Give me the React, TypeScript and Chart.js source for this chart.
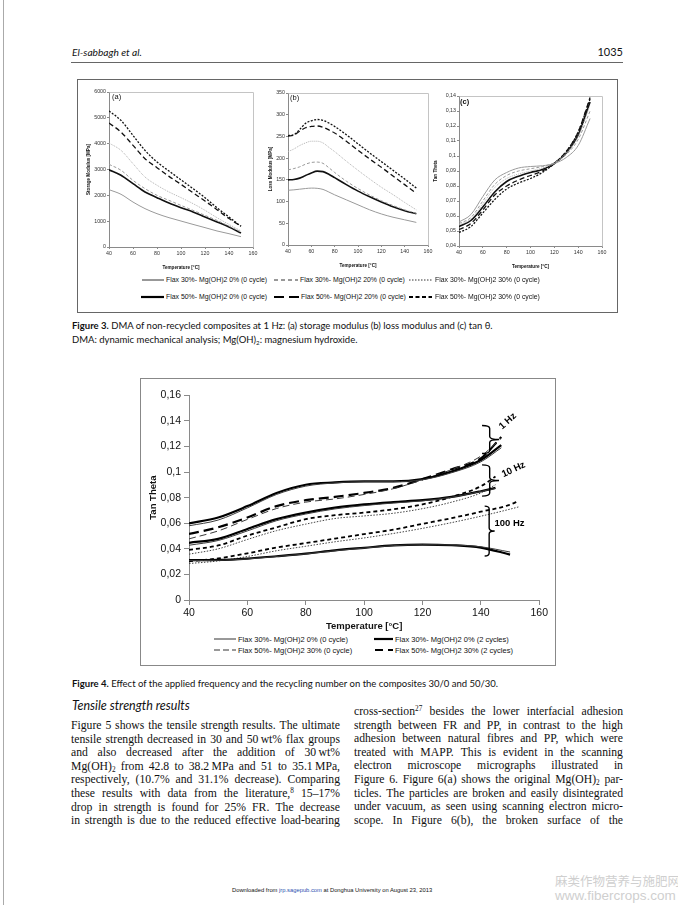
import React, { useEffect, useRef } from 'react';
import { Chart, registerables } from 'chart.js';
Chart.register(...registerables);

const SANS = '"Liberation Sans", Arial, sans-serif';
const CAP = 'Lato, "Open Sans", sans-serif';
const SERIF = '"Liberation Serif", "Times New Roman", serif';

// ---------- Figure 3 data ----------
const fig3Temps = [40, 50, 60, 70, 80, 90, 100, 110, 120, 130, 140, 150];
const storage30_0 = [2220, 2040, 1740, 1485, 1290, 1135, 1005, 875, 750, 620, 515, 400];
const storage30_20 = [3200, 2970, 2580, 2260, 2000, 1805, 1610, 1420, 1225, 1030, 810, 580];
const storage30_30 = [4025, 3740, 3225, 2710, 2390, 2130, 1910, 1680, 1420, 1135, 875, 620];
const storage50_0 = [2990, 2775, 2450, 2130, 1910, 1700, 1520, 1355, 1160, 970, 775, 540];
const storage50_20 = [4800, 4450, 3935, 3420, 3070, 2735, 2425, 2100, 1780, 1445, 1100, 800];
const storage50_30 = [5265, 4900, 4320, 3740, 3290, 2940, 2600, 2260, 1910, 1520, 1160, 800];

const lossTemps = [40, 45, 50, 55, 60, 65, 70, 75, 80, 90, 100, 110, 120, 130, 140, 150];
const loss30_0 = [126, 127, 128.5, 130, 131, 130.5, 128, 122, 115.5, 104, 92.5, 81, 71.5, 64, 58, 52];
const loss30_20 = [173, 176, 180, 186, 190, 191, 188, 178, 167, 147, 130, 115, 102, 91, 81, 73];
const loss30_30 = [215, 221, 229, 235, 239, 239, 235, 225, 215, 193, 172, 152, 133, 116, 98, 81];
const loss50_0 = [150, 151, 154, 160, 166, 170, 169, 163, 155, 139, 124, 111, 99, 88, 79, 72];
const loss50_20 = [251, 253, 262, 270, 273, 274, 271, 265, 258, 239, 218, 198, 179, 159, 139, 119];
const loss50_30 = [252, 254, 266, 280, 286, 289, 287, 281, 273, 254, 233, 212, 192, 172, 152, 131];

const tan30_0 = [0.056, 0.061, 0.073, 0.084, 0.089, 0.092, 0.093, 0.0935, 0.095, 0.099, 0.107, 0.125];
const tan30_20 = [0.055, 0.059, 0.070, 0.081, 0.087, 0.090, 0.0915, 0.093, 0.0955, 0.101, 0.111, 0.130];
const tan30_30 = [0.054, 0.058, 0.068, 0.079, 0.085, 0.088, 0.090, 0.092, 0.095, 0.102, 0.113, 0.134];
const tan50_0 = [0.053, 0.057, 0.066, 0.076, 0.083, 0.0865, 0.089, 0.091, 0.095, 0.102, 0.114, 0.136];
const tan50_20 = [0.051, 0.055, 0.064, 0.074, 0.080, 0.084, 0.087, 0.090, 0.095, 0.103, 0.116, 0.139];
const tan50_30 = [0.049, 0.053, 0.062, 0.071, 0.078, 0.082, 0.085, 0.089, 0.095, 0.103, 0.116, 0.138];

// ---------- Figure 4 data ----------
const temps1Hz = [40, 50, 60, 70, 80, 90, 100, 110, 120, 130, 140, 147];
const hz1_30_0_c0 = [0.058, 0.0625, 0.072, 0.0825, 0.089, 0.0915, 0.0925, 0.0925, 0.094, 0.0995, 0.108, 0.119];
const hz1_30_0_c2 = [0.0598, 0.0645, 0.0734, 0.0837, 0.0901, 0.0919, 0.0927, 0.0927, 0.0945, 0.1004, 0.1094, 0.121];
const hz1_50_30_c0 = [0.0478, 0.054, 0.063, 0.0715, 0.0765, 0.079, 0.0825, 0.087, 0.094, 0.102, 0.1125, 0.1265];
const hz1_50_30_c2 = [0.0516, 0.0568, 0.0645, 0.0734, 0.078, 0.0806, 0.0837, 0.0876, 0.0945, 0.1022, 0.1107, 0.1274];

const temps10Hz = [40, 50, 60, 70, 80, 90, 100, 110, 120, 130, 140, 145];
const hz10_30_0_c0 = [0.0428, 0.0465, 0.054, 0.062, 0.0672, 0.0712, 0.0738, 0.0758, 0.0775, 0.0803, 0.0848, 0.0872];
const hz10_30_0_c2 = [0.0447, 0.0478, 0.0555, 0.0632, 0.0683, 0.0722, 0.0747, 0.0765, 0.078, 0.0806, 0.085, 0.0876];
const hz10_50_30_c0 = [0.0358, 0.04, 0.0473, 0.0542, 0.0593, 0.0637, 0.0657, 0.0678, 0.0714, 0.0765, 0.0837, 0.0901];
const hz10_50_30_c2 = [0.0392, 0.0426, 0.0503, 0.0568, 0.0632, 0.0663, 0.0683, 0.0709, 0.0747, 0.0806, 0.0889, 0.0966];

const temps100Hz = [40, 50, 60, 70, 80, 90, 100, 110, 120, 130, 140, 150];
const hz100_30_0_c0 = [0.0308, 0.031, 0.0321, 0.034, 0.036, 0.0385, 0.0406, 0.0425, 0.0432, 0.043, 0.0416, 0.0375];
const hz100_30_0_c2 = [0.0311, 0.0313, 0.0324, 0.0342, 0.0362, 0.0388, 0.0408, 0.0427, 0.0433, 0.0428, 0.041, 0.0355];
const temps100HzLong = [40, 50, 60, 70, 80, 90, 100, 110, 120, 130, 140, 150, 153];
const hz100_50_30_c0 = [0.0285, 0.0305, 0.034, 0.0385, 0.042, 0.0455, 0.0485, 0.052, 0.056, 0.0605, 0.0655, 0.071, 0.0728];
const hz100_50_30_c2 = [0.0303, 0.0325, 0.0365, 0.041, 0.0445, 0.048, 0.0515, 0.055, 0.0595, 0.064, 0.069, 0.0745, 0.0776];

const braceTemps = [140.4, 140.4, 141.3];
const braceTops = [0.1364, 0.1056, 0.0734];
const braceBottoms = [0.1145, 0.0812, 0.0344];
const braceWidths = [17, 17, 10];
const freqLabels = ['1 Hz', '10 Hz', '100 Hz'];
const freqLabelTemps = [149.2, 151.2, 149.8];
const freqLabelValues = [0.1397, 0.102, 0.0598];
const freqLabelAngles = [-42, -25, 0];

const fig3XTicks = { min: 40, max: 160, step: 20 };

// ---------- styles ----------
type St = { c: string; w: number; d: number[] };
const s3 = {
  a: { c: '#9a9a9a', w: 1, d: [] } as St,
  b: { c: '#9a9a9a', w: 1, d: [3, 2] } as St,
  c: { c: '#b2b2b2', w: 1, d: [1, 1] } as St,
  d: { c: '#111', w: 1.6, d: [] } as St,
  e: { c: '#111', w: 1.3, d: [5, 3] } as St,
  f: { c: '#111', w: 1.3, d: [2, 1.5] } as St,
};
const s4 = {
  thin: { c: '#3a3a3a', w: 1, d: [] } as St,
  thick: { c: '#000', w: 2.2, d: [] } as St,
  longThin: { c: '#3a3a3a', w: 1, d: [7, 4] } as St,
  longThick: { c: '#000', w: 2.2, d: [10, 5] } as St,
  shortThick: { c: '#000', w: 1.8, d: [4, 3] } as St,
  dot: { c: '#444', w: 1, d: [1.5, 1.5] } as St,
};

function ds(xs: number[], ys: number[], st: St) {
  return {
    data: xs.map((x, i) => ({ x, y: ys[i] })),
    borderColor: st.c,
    borderWidth: st.w,
    borderDash: st.d,
    pointRadius: 0,
    fill: false,
    cubicInterpolationMode: 'monotone',
  };
}

const comma = (v: number) => String(+Number(v).toFixed(3)).replace('.', ',');

function axis(o: any) {
  return {
    type: 'linear',
    min: o.min,
    max: o.max,
    border: { display: true, color: '#8a8a8a', width: 1 },
    grid: { display: true, drawOnChartArea: false, drawTicks: true, tickLength: o.tl, color: '#8a8a8a' },
    ticks: {
      stepSize: o.step,
      autoSkip: false,
      maxRotation: 0,
      padding: o.pad,
      color: o.tc || '#333',
      font: { family: SANS, size: o.fs },
      callback: (v: number) => (o.fmt ? o.fmt(v) : String(v)),
    },
    title: { display: true, text: o.title, color: '#111', padding: 0, font: { family: SANS, size: o.ts, weight: 'bold' } },
    afterFit: o.fit,
  };
}

function topRightFrame(color: string) {
  return {
    id: 'trframe',
    beforeDatasetsDraw(chart: any) {
      const { ctx, chartArea: a } = chart;
      ctx.save();
      ctx.strokeStyle = color;
      ctx.lineWidth = 1;
      ctx.beginPath();
      const l = Math.round(a.left) + 0.5, t = Math.round(a.top) + 0.5, r = Math.round(a.right) + 0.5, b = Math.round(a.bottom) + 0.5;
      ctx.moveTo(l, t);
      ctx.lineTo(r, t);
      ctx.lineTo(r, b);
      ctx.stroke();
      ctx.restore();
    },
  };
}

function panelLabel(text: string, dx: number, dy: number, bold: boolean) {
  return {
    id: 'panel',
    afterDraw(chart: any) {
      const { ctx, chartArea: a } = chart;
      ctx.save();
      ctx.fillStyle = '#111';
      ctx.font = `${bold ? 'bold ' : ''}7.5px ${SANS}`;
      ctx.textBaseline = 'middle';
      ctx.fillText(text, a.left + dx, a.top + dy);
      ctx.restore();
    },
  };
}

function fig3Config(o: any) {
  return {
    type: 'line',
    data: { datasets: o.series.map((s: any) => ds(o.xs, s[0], s[1])) },
    options: {
      animation: false,
      responsive: false,
      layout: { padding: { top: o.padTop, right: o.padRight, left: 0, bottom: 0 } },
      plugins: { legend: { display: false }, tooltip: { enabled: false } },
      scales: {
        x: axis({ min: fig3XTicks.min, max: fig3XTicks.max, step: fig3XTicks.step, tl: 2, pad: 1, fs: 5.3, title: 'Temperature [°C]', ts: 4.6, fit: (s: any) => { s.height = o.xH; } }),
        y: axis({ min: o.yMin, max: o.yMax, step: o.yStep, tl: 2, pad: 1, fs: 5.3, fmt: o.fmt, title: o.yTitle, ts: 4.6, fit: (s: any) => { s.width = o.yW; } }),
      },
    },
    plugins: [topRightFrame('#c4c4c4'), panelLabel(o.panel, o.pdx, o.pdy, o.pbold)],
  };
}

function drawBrace(ctx: any, x0: number, yt: number, yb: number, w: number) {
  const a = w * 0.45, r = 3, ym = (yt + yb) / 2;
  ctx.beginPath();
  ctx.moveTo(x0, yt);
  ctx.quadraticCurveTo(x0 + a, yt, x0 + a, yt + r);
  ctx.lineTo(x0 + a, ym - r);
  ctx.quadraticCurveTo(x0 + a, ym, x0 + w, ym);
  ctx.moveTo(x0 + w, ym);
  ctx.quadraticCurveTo(x0 + a, ym, x0 + a, ym + r);
  ctx.lineTo(x0 + a, yb - r);
  ctx.quadraticCurveTo(x0 + a, yb, x0, yb);
  ctx.stroke();
}

const freqPlugin = {
  id: 'freq',
  afterDatasetsDraw(chart: any) {
    const { ctx, scales } = chart;
    const x = scales.x, y = scales.y;
    ctx.save();
    ctx.strokeStyle = '#000';
    ctx.lineWidth = 1.4;
    braceTemps.forEach((t, i) => {
      drawBrace(ctx, x.getPixelForValue(t), y.getPixelForValue(braceTops[i]), y.getPixelForValue(braceBottoms[i]), braceWidths[i]);
    });
    ctx.fillStyle = '#000';
    ctx.font = `bold 9.5px ${SANS}`;
    ctx.textAlign = 'center';
    ctx.textBaseline = 'middle';
    freqLabels.forEach((lab, i) => {
      ctx.save();
      ctx.translate(x.getPixelForValue(freqLabelTemps[i]), y.getPixelForValue(freqLabelValues[i]));
      ctx.rotate((freqLabelAngles[i] * Math.PI) / 180);
      ctx.fillText(lab, 0, 0);
      ctx.restore();
    });
    ctx.restore();
  },
};

function fig4Config() {
  const datasets = [
    ds(temps1Hz, hz1_30_0_c0, s4.thin),
    ds(temps1Hz, hz1_30_0_c2, s4.thick),
    ds(temps1Hz, hz1_50_30_c0, s4.longThin),
    ds(temps1Hz, hz1_50_30_c2, s4.longThick),
    ds(temps10Hz, hz10_30_0_c0, s4.thin),
    ds(temps10Hz, hz10_30_0_c2, s4.thick),
    ds(temps10Hz, hz10_50_30_c0, s4.dot),
    ds(temps10Hz, hz10_50_30_c2, s4.shortThick),
    ds(temps100Hz, hz100_30_0_c0, s4.thin),
    ds(temps100Hz, hz100_30_0_c2, s4.thick),
    ds(temps100HzLong, hz100_50_30_c0, s4.dot),
    ds(temps100HzLong, hz100_50_30_c2, s4.shortThick),
  ];
  return {
    type: 'line',
    data: { datasets },
    options: {
      animation: false,
      responsive: false,
      layout: { padding: { top: 7, right: 8, left: 0, bottom: 0 } },
      plugins: { legend: { display: false }, tooltip: { enabled: false } },
      scales: {
        x: axis({ min: 40, max: 160, step: 20, tl: 5, pad: 2, fs: 10.5, tc: '#111', title: 'Temperature [°C]', ts: 9.5, fit: (s: any) => { s.height = 32; } }),
        y: axis({ min: 0, max: 0.16, step: 0.02, tl: 5, pad: 3, fs: 10.5, tc: '#111', fmt: comma, title: 'Tan Theta', ts: 9.5, fit: (s: any) => { s.width = 41; } }),
      },
    },
    plugins: [freqPlugin],
  };
}

function ChartCanvas({ left, top, width, height, make }: any) {
  const ref = useRef<HTMLCanvasElement>(null);
  useEffect(() => {
    const c = new Chart(ref.current as HTMLCanvasElement, make());
    return () => c.destroy();
  }, []);
  return <canvas ref={ref} width={width} height={height} style={{ position: 'absolute', left, top, width, height }} />;
}

function Sample({ x, y, w, c, sw, dash }: any) {
  return (
    <svg style={{ position: 'absolute', left: x, top: y - 3, overflow: 'visible' }} width={w} height={6}>
      <line x1={0} y1={3} x2={w} y2={3} stroke={c} strokeWidth={sw} strokeDasharray={dash} />
    </svg>
  );
}

function T({ x, y, size, family, children, style, right }: any) {
  const base: any = {
    position: 'absolute',
    top: y - size * 0.6,
    fontSize: size,
    lineHeight: `${size * 1.2}px`,
    fontFamily: family,
    whiteSpace: 'nowrap',
    color: '#111',
  };
  if (right !== undefined) base.right = 678 - right; else base.left = x;
  return <div style={{ ...base, ...style }}>{children}</div>;
}

function Word({ w }: any) {
  const parts = w.split(/(\^\d+|_\d+)/);
  return (
    <span>
      {parts.map((p: string, i: number) =>
        p.startsWith('^') ? (
          <span key={i} style={{ fontSize: '0.62em', verticalAlign: '0.55em', lineHeight: 0 }}>{p.slice(1)}</span>
        ) : p.startsWith('_') ? (
          <span key={i} style={{ fontSize: '0.62em', verticalAlign: '-0.3em', lineHeight: 0 }}>{p.slice(1)}</span>
        ) : (
          p
        )
      )}
    </span>
  );
}

function JLine({ text, x, y, w }: any) {
  const words = text.split(' ');
  return (
    <div style={{ position: 'absolute', left: x, top: y - 7, width: w, height: 14, display: 'flex', justifyContent: 'space-between', whiteSpace: 'nowrap', fontFamily: SERIF, fontSize: 11.7, lineHeight: '14px', color: '#111' }}>
      {words.map((wd: string, i: number) => <Word key={i} w={wd} />)}
    </div>
  );
}

const leftCol = [
  'Figure 5 shows the tensile strength results. The ultimate',
  'tensile strength decreased in 30 and 50\u2009wt% flax groups',
  'and also decreased after the addition of 30\u2009wt%',
  'Mg(OH)_2 from 42.8 to 38.2\u2009MPa and 51 to 35.1\u2009MPa,',
  'respectively, (10.7% and 31.1% decrease). Comparing',
  'these results with data from the literature,^8 15–17%',
  'drop in strength is found for 25% FR. The decrease',
  'in strength is due to the reduced effective load-bearing',
];
const rightCol = [
  'cross-section^27 besides the lower interfacial adhesion',
  'strength between FR and PP, in contrast to the high',
  'adhesion between natural fibres and PP, which were',
  'treated with MAPP. This is evident in the scanning',
  'electron microscope micrographs illustrated in',
  'Figure 6. Figure 6(a) shows the original Mg(OH)_2 par-',
  'ticles. The particles are broken and easily disintegrated',
  'under vacuum, as seen using scanning electron micro-',
  'scope. In Figure 6(b), the broken surface of the',
];

export default function App() {
  const L3 = 6.9;
  const L4 = 7.5;
  const CS = 9.5;
  return (
    <div style={{ position: 'absolute', left: 0, top: 0, width: 678, height: 905, background: '#fff', overflow: 'hidden' }}>
      <div style={{ position: 'absolute', left: 3, top: 0, width: 1, height: 905, background: '#aaa' }} />

      {/* header */}
      <T x={72} y={52} size={10.2} family={CAP} style={{ fontStyle: 'italic' }}>El-sabbagh et al.</T>
      <T right={623} y={52} size={11} family={CAP}>1035</T>
      <div style={{ position: 'absolute', left: 71, top: 62, width: 552, height: 1, background: '#666' }} />

      {/* Figure 3 box */}
      <div style={{ position: 'absolute', left: 77, top: 79, width: 539, height: 232, border: '1px solid #666' }} />
      <ChartCanvas left={86} top={86} width={174} height={184} make={() => fig3Config({
        xs: fig3Temps,
        series: [[storage30_0, s3.a], [storage30_20, s3.b], [storage30_30, s3.c], [storage50_0, s3.d], [storage50_20, s3.e], [storage50_30, s3.f]],
        yMin: 0, yMax: 6000, yStep: 1000, yTitle: 'Storage Modulus [MPa]', yW: 23, xH: 23, padTop: 6, padRight: 7,
        panel: '(a)', pdx: 3, pdy: 5, pbold: false,
      })} />
      <ChartCanvas left={268} top={87} width={166} height={181} make={() => fig3Config({
        xs: lossTemps,
        series: [[loss30_0, s3.a], [loss30_20, s3.b], [loss30_30, s3.c], [loss50_0, s3.d], [loss50_20, s3.e], [loss50_30, s3.f]],
        yMin: 0, yMax: 350, yStep: 50, yTitle: 'Loss Modulus [MPa]', yW: 20, xH: 23, padTop: 6, padRight: 6,
        panel: '(b)', pdx: 2, pdy: 5, pbold: false,
      })} />
      <ChartCanvas left={433} top={89} width={177} height={180} make={() => fig3Config({
        xs: fig3Temps,
        series: [[tan30_0, s3.a], [tan30_20, s3.b], [tan30_30, s3.c], [tan50_0, s3.d], [tan50_20, s3.e], [tan50_30, s3.f]],
        yMin: 0.04, yMax: 0.14, yStep: 0.01, fmt: comma, yTitle: 'Tan Theta', yW: 26, xH: 23, padTop: 7, padRight: 8,
        panel: '(c)', pdx: 1, pdy: 6, pbold: true,
      })} />

      {/* Figure 3 legend */}
      <Sample x={142} y={280} w={22} c="#333" sw={1} />
      <T x={166} y={280} size={L3} family={SANS}>Flax 30%- Mg(OH)2 0% (0 cycle)</T>
      <Sample x={274} y={280} w={24} c="#333" sw={1} dash="4 3" />
      <T x={300} y={280} size={L3} family={SANS}>Flax 30%- Mg(OH)2 20% (0 cycle)</T>
      <Sample x={409} y={280} w={23} c="#333" sw={1} dash="1.5 1.5" />
      <T x={435} y={280} size={L3} family={SANS}>Flax 30%- Mg(OH)2 30% (0 cycle)</T>
      <Sample x={141} y={297} w={23} c="#000" sw={2.2} />
      <T x={166} y={297} size={L3} family={SANS}>Flax 50%- Mg(OH)2 0% (0 cycle)</T>
      <Sample x={274} y={297} w={25} c="#000" sw={2.2} dash="10 5" />
      <T x={301} y={297} size={L3} family={SANS}>Flax 50%- Mg(OH)2 20% (0 cycle)</T>
      <Sample x={409} y={297} w={23} c="#000" sw={2.2} dash="4 2.5" />
      <T x={435} y={297} size={L3} family={SANS}>Flax 50%- Mg(OH)2 30% (0 cycle)</T>

      {/* Figure 3 caption */}
      <T x={72} y={326} size={CS} family={CAP}><b>Figure 3.</b> DMA of non-recycled composites at 1 Hz: (a) storage modulus (b) loss modulus and (c) tan θ.</T>
      <T x={72} y={340} size={CS} family={CAP}>DMA: dynamic mechanical analysis; Mg(OH)<span style={{ fontSize: '0.65em', verticalAlign: '-0.3em', lineHeight: 0 }}>2</span>: magnesium hydroxide.</T>

      {/* Figure 4 box */}
      <div style={{ position: 'absolute', left: 140, top: 378, width: 414, height: 286, border: '1px solid #888' }} />
      <ChartCanvas left={148} top={386} width={402} height={246} make={fig4Config} />
      <Sample x={214} y={639} w={22} c="#333" sw={1} />
      <T x={238} y={639} size={L4} family={SANS}>Flax 30%- Mg(OH)2 0% (0 cycle)</T>
      <Sample x={374} y={639} w={19} c="#000" sw={2.2} />
      <T x={395} y={639} size={L4} family={SANS}>Flax 30%- Mg(OH)2 0% (2 cycles)</T>
      <Sample x={214} y={650} w={22} c="#333" sw={1} dash="6 3" />
      <T x={238} y={650} size={L4} family={SANS}>Flax 50%- Mg(OH)2 30% (0 cycle)</T>
      <Sample x={375} y={650} w={18} c="#000" sw={2.2} dash="8 5" />
      <T x={395} y={650} size={L4} family={SANS}>Flax 50%- Mg(OH)2 30% (2 cycles)</T>

      {/* Figure 4 caption */}
      <T x={72} y={684} size={CS} family={CAP}><b>Figure 4.</b> Effect of the applied frequency and the recycling number on the composites 30/0 and 50/30.</T>

      {/* body */}
      <T x={72} y={705} size={12.5} family={CAP} style={{ fontStyle: 'italic' }}>Tensile strength results</T>
      {leftCol.map((t, i) => <JLine key={'l' + i} text={t} x={71} y={726 + i * 13.6} w={269} />)}
      {rightCol.map((t, i) => <JLine key={'r' + i} text={t} x={354} y={712 + i * 13.6} w={269} />)}

      {/* footer */}
      <T x={232} y={890} size={5.8} family={SANS}>Downloaded from <span style={{ color: '#2a4fb0' }}>jrp.sagepub.com</span> at Donghua University on August 23, 2013</T>
      <T x={555} y={880} size={12.5} family={'"Noto Sans CJK SC", sans-serif'} style={{ color: '#cfcfcf' }}>麻类作物营养与施肥网</T>
      <T x={555} y={896} size={13.5} family={SANS} style={{ color: '#cfcfcf' }}>www.fibercrops.com</T>
    </div>
  );
}
